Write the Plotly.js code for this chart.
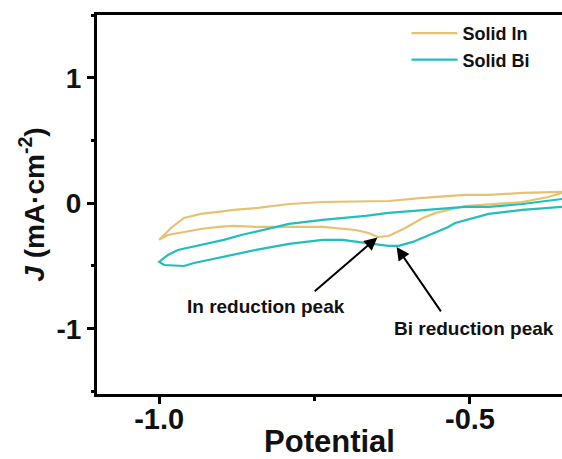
<!DOCTYPE html>
<html>
<head>
<meta charset="utf-8">
<script src="https://cdn.plot.ly/plotly-3.0.1.min.js"></script>
<style>html,body{margin:0;padding:0;background:#fff;}#chart{width:562px;height:459px;}</style>
</head>
<body>
<div id="chart"></div>
<script>
// Solid In: cathodic branch (right to left) then anodic branch (left to right)
const inPotential = [-0.352,-0.374,-0.416,-0.470,-0.508,-0.555,-0.576,-0.604,-0.631,-0.649,-0.663,-0.684,-0.705,-0.737,-0.791,-0.844,-0.880,-0.905,-0.933,-0.960,-0.986,-1.000,
  -0.981,-0.960,-0.933,-0.905,-0.880,-0.841,-0.791,-0.737,-0.668,-0.631,-0.576,-0.508,-0.470,-0.416,-0.352];
const inCurrent = [0.082,0.050,0.010,-0.006,-0.022,-0.077,-0.117,-0.197,-0.261,-0.269,-0.237,-0.213,-0.205,-0.189,-0.189,-0.189,-0.181,-0.189,-0.205,-0.229,-0.253,-0.292,
  -0.197,-0.117,-0.085,-0.069,-0.053,-0.037,-0.006,0.010,0.018,0.018,0.042,0.066,0.066,0.082,0.090];
// Solid Bi
const biPotential = [-0.352,-0.416,-0.470,-0.496,-0.524,-0.535,-0.567,-0.592,-0.615,-0.631,-0.657,-0.684,-0.705,-0.737,-0.791,-0.844,-0.868,-0.896,-0.921,-0.944,-0.960,-0.992,-1.000,
  -0.986,-0.970,-0.949,-0.928,-0.896,-0.868,-0.841,-0.791,-0.737,-0.668,-0.631,-0.576,-0.508,-0.470,-0.416,-0.352];
const biCurrent = [-0.029,-0.053,-0.085,-0.117,-0.157,-0.189,-0.253,-0.308,-0.340,-0.340,-0.324,-0.308,-0.292,-0.292,-0.324,-0.372,-0.396,-0.428,-0.452,-0.476,-0.500,-0.492,-0.468,
  -0.412,-0.372,-0.348,-0.324,-0.292,-0.253,-0.221,-0.165,-0.133,-0.101,-0.077,-0.053,-0.029,-0.029,-0.006,0.034];

const seriesNames = ['Solid In', 'Solid Bi'];
const xTickVals = [-1.0, -0.5];
const xTickText = ['-1.0', '-0.5'];
const yTickVals = [-1, 0, 1];
const yTickText = ['-1', '0', '1'];
const peakLabels = ['In reduction peak', 'Bi reduction peak'];
const peakPoints = [[-0.649, -0.272], [-0.618, -0.349]];
const arrowTails = [[-0.753, -0.715], [-0.544, -0.882]];
const labelPoints = [[-0.828, -0.826], [-0.494, -1.002]];

const font = 'Arial, "Liberation Sans", sans-serif';
const xRange = [-1.1, -0.352];
const traces = [
  {x: inPotential, y: inCurrent, name: seriesNames[0], mode: 'lines', line: {color: '#E6C172', width: 2.2}},
  {x: biPotential, y: biCurrent, name: seriesNames[1], mode: 'lines', xaxis: 'x2', line: {color: '#22BDBD', width: 2.2}}
];
const annotations = [];
for (let i = 0; i < 2; i++) {
  annotations.push({x: peakPoints[i][0], y: peakPoints[i][1], ax: arrowTails[i][0], ay: arrowTails[i][1],
    axref: 'x', ayref: 'y', xref: 'x', yref: 'y', text: ' ', showarrow: true,
    font: {family: font, size: 2, color: '#000'},
    arrowhead: 2, arrowsize: 1.3, arrowwidth: 2, arrowcolor: '#000'});
  annotations.push({x: labelPoints[i][0], y: labelPoints[i][1], xref: 'x', yref: 'y', text: peakLabels[i],
    showarrow: false, font: {family: font, size: 19, color: '#111', weight: 'bold'}});
}
const layout = {
  width: 562, height: 459,
  margin: {l: 97, r: 0, t: 15, b: 30},
  paper_bgcolor: '#fff', plot_bgcolor: '#fff',
  showlegend: true,
  legend: {x: 0.6656, y: 1.0, xanchor: 'left', yanchor: 'top', bgcolor: 'rgba(0,0,0,0)', itemwidth: 46,
    font: {family: font, size: 18, color: '#111', weight: 'bold'}},
  xaxis: {range: xRange, showgrid: false, zeroline: false, showline: true, linewidth: 3, linecolor: '#000', mirror: true,
    ticks: 'outside', ticklen: 7, tickwidth: 3, tickcolor: '#000', tickmode: 'array', tickvals: xTickVals,
    showticklabels: false,
    minor: {dtick: 0.25, tick0: 0, ticks: 'outside', ticklen: 4, tickwidth: 3, tickcolor: '#000'}},
  xaxis2: {range: xRange, overlaying: 'x', anchor: 'free', position: 0.0725, side: 'bottom',
    showgrid: false, zeroline: false, showline: false, ticks: '', tickmode: 'array', tickvals: xTickVals, ticktext: xTickText,
    tickfont: {family: font, size: 29, color: '#111', weight: 'bold'},
    title: {text: 'Potential', font: {family: font, size: 31, color: '#111', weight: 'bold'}, standoff: 6}},
  yaxis: {range: [-1.52, 1.5], domain: [0.08454, 1], showgrid: false, zeroline: false, showline: true, linewidth: 3, linecolor: '#000', mirror: false,
    ticks: 'outside', ticklen: 7, tickwidth: 3, tickcolor: '#000', tickmode: 'array', tickvals: yTickVals, ticktext: yTickText,
    minor: {dtick: 0.5, tick0: 0, ticks: 'outside', ticklen: 3, tickwidth: 3, tickcolor: '#000'},
    tickfont: {family: font, size: 28, color: '#111', weight: 'bold'},
    title: {text: '<i>J</i> (mA·cm<sup>-2</sup>)', font: {family: font, size: 28, color: '#111', weight: 'bold'}, standoff: 4}},
  annotations: annotations
};
Plotly.newPlot('chart', traces, layout, {displayModeBar: false, staticPlot: true});
</script>
</body>
</html>
